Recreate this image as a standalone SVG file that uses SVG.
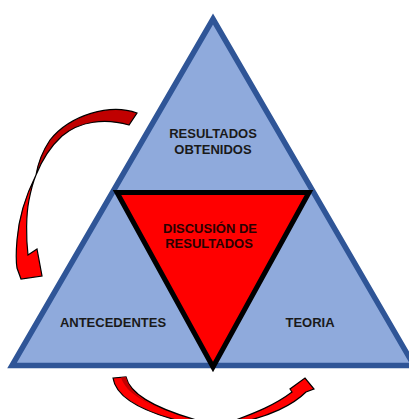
<svg xmlns="http://www.w3.org/2000/svg" width="409" height="419" viewBox="0 0 409 419">
  <style>
    .lbl { font-family: "Liberation Sans", Arial, sans-serif; font-weight: bold; font-size: 13px; fill: #1a1a1a; text-anchor: middle; }
    .lblr { fill: #2a0000; }
    .arrow { stroke: #000; stroke-width: 1.2; stroke-linejoin: miter; }
    .back { fill: #C00000; }
    .front { fill: #FF0000; }
  </style>
  <rect width="409" height="419" fill="#fff"/>
  <g id="outer-triangle">
    <polygon points="213,19 414,365.5 12,365.5" fill="#8FAADC" stroke="#2F5597" stroke-width="5.5" stroke-linejoin="miter"/>
  </g>
  <g id="inner-triangle">
    <polygon points="117,192.5 309,192.5 213,367" fill="#FF0000" stroke="#000" stroke-width="5" stroke-linejoin="miter"/>
  </g>
  <g id="node-resultados-obtenidos">
    <text class="lbl" x="213" y="138">RESULTADOS</text>
    <text class="lbl" x="213" y="154">OBTENIDOS</text>
  </g>
  <g id="node-discusion">
    <text class="lbl lblr" x="210" y="233">DISCUSIÓN DE</text>
    <text class="lbl lblr" x="209" y="248">RESULTADOS</text>
  </g>
  <g id="node-antecedentes">
    <text class="lbl" x="113" y="327">ANTECEDENTES</text>
  </g>
  <g id="node-teoria">
    <text class="lbl" x="310" y="327">TEORIA</text>
  </g>
  <g id="connectors">
    <g id="arrow-left">
      <path class="arrow back" d="M137,113 C110,103 70,115 50,140 C42,152 38,163 36,175 C42,160 50,147 62,136 C80,121 105,118 129,125 Z"/>
      <path class="arrow front" d="M36,175 C26,195 19,215 17,240 C16,252 16,262 17,268 L21,279 L42,276 L37,249 L28,255 C26,238 26,215 29,200 C31,190 33,182 36,175 Z"/>
    </g>
    <g id="arrow-bottom">
      <path class="arrow front" d="M113,378 L126,377 C130,395 160,410 200,421 L180,421 C145,412 116,398 113,378 Z"/>
      <path class="back" d="M121,377.6 L126,377 C130,395 150,405 170,413 C148,404 126,394 121,377.6 Z"/>
      <path class="arrow front" d="M233,421 C255,413 275,405 292,392 L290,389 L305,378 L314,389 L306,392 C292,406 268,416 246,421 Z"/>
    </g>
  </g>
</svg>
